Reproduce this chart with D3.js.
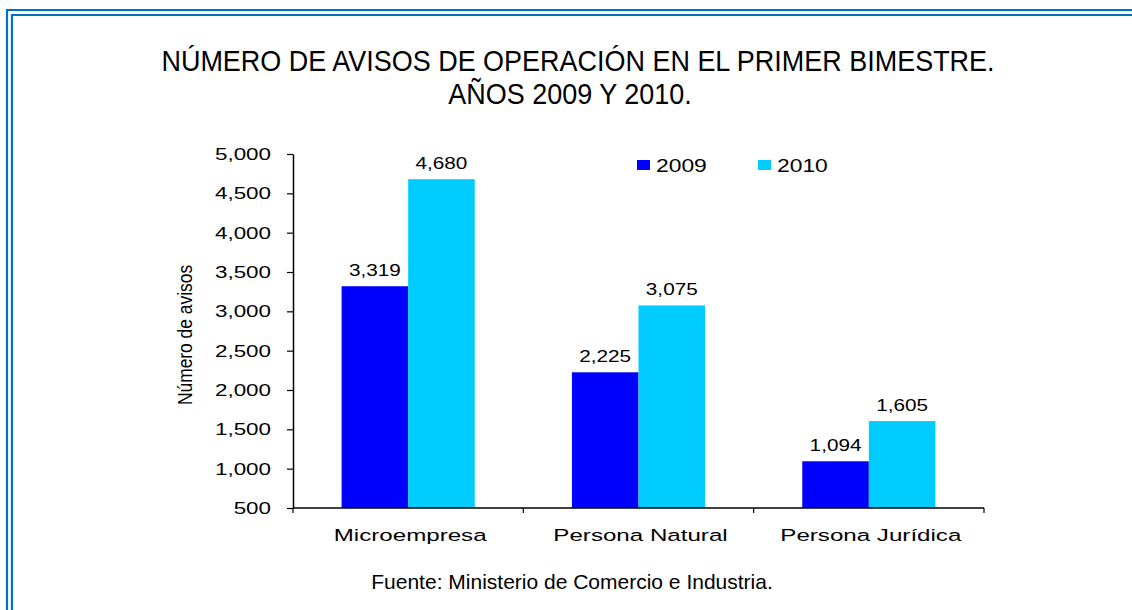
<!DOCTYPE html>
<html>
<head>
<meta charset="utf-8">
<script src="https://cdn.jsdelivr.net/npm/d3@7"></script>
<style>
body { margin: 0; background: #fff; }
text { font-family: "Liberation Sans", Arial, sans-serif; fill: #000; }
</style>
</head>
<body>
<svg id="chart" width="1132" height="610"></svg>
<script>
var categories = ["Microempresa", "Persona Natural", "Persona Jurídica"];
var series = ["2009", "2010"];
var values2009 = [3319, 2225, 1094];
var values2010 = [4680, 3075, 1605];
var yTicks = [500, 1000, 1500, 2000, 2500, 3000, 3500, 4000, 4500, 5000];
var colors = ["#0000ff", "#00ccff"];

var chart = function() {
    var c = {
	left: 293,
	right: 984,
	top: 154,
	bottom: 508,
	svg: d3.select("#chart"),
	// text drawn at x,y then widened by sx (the original is stretched)
	stext: function(g, x, y, sx, s, size, anchor){
	    return g.append("text")
		.attr("transform", "translate(" + x + "," + y + ") scale(" + sx + ",1)")
		.attr("text-anchor", anchor || "middle")
		.style("font-size", size + "px")
		.text(s);
	},
	draw_border: function(){
	    var b = c.svg.append("g").attr("fill", "none")
		.attr("stroke", "#0070c0").attr("stroke-width", 2.2);
	    b.append("path").attr("d", "M 7 610 L 7 10 L 1132 10");
	    b.append("path").attr("d", "M 12 610 L 12 15 L 1132 15");
	},
	draw_title: function(){
	    c.stext(c.svg, 578, 71, 0.93, "NÚMERO DE AVISOS DE OPERACIÓN EN EL PRIMER BIMESTRE.", 29);
	    c.stext(c.svg, 570, 104, 0.93, "AÑOS 2009 Y 2010.", 29);
	    c.stext(c.svg, 572, 589, 1, "Fuente: Ministerio de Comercio e Industria.", 21);
	},
	draw: function(){
	    var y = d3.scaleLinear().domain([500, 5000]).range([c.bottom, c.top]);
	    var x0 = d3.scaleBand().domain(categories).range([c.left, c.right]);
	    var x1 = d3.scaleBand().domain(series).range([0, x0.bandwidth()]).paddingOuter(0.73);
	    var data = categories.map(function(k, i){
		return {cat: k, vals: [values2009[i], values2010[i]]};
	    });

	    // bars
	    var groups = c.svg.append("g").selectAll("g").data(data).enter().append("g")
		.attr("transform", function(d){ return "translate(" + x0(d.cat) + ",0)"; });
	    groups.selectAll("rect").data(function(d){ return d.vals; }).enter().append("rect")
		.attr("x", function(d, i){ return x1(series[i]); })
		.attr("y", function(d){ return y(d); })
		.attr("width", x1.bandwidth())
		.attr("height", function(d){ return c.bottom - y(d); })
		.attr("fill", function(d, i){ return colors[i]; });
	    groups.each(function(d){
		var g = d3.select(this);
		d.vals.forEach(function(v, i){
		    c.stext(g, x1(series[i]) + x1.bandwidth()/2, y(v) - 10, 1.22, d3.format(",")(v), 17);
		});
	    });

	    // y axis
	    var ya = c.svg.append("g").attr("transform", "translate(" + c.left + ",0)")
		.call(d3.axisLeft(y).tickValues(yTicks).tickFormat(d3.format(",")).tickSizeInner(6).tickSizeOuter(0));
	    ya.select(".domain").attr("stroke-width", 1.5);
	    ya.selectAll(".tick line").attr("stroke-width", 1.2);
	    var sx = 1.4;
	    ya.selectAll(".tick text")
		.attr("x", -22 / sx).attr("dy", "0.35em")
		.attr("transform", "scale(" + sx + ",1)")
		.style("font-size", "16px").attr("fill", "#000");

	    // x axis: ticks between the categories
	    var xa = c.svg.append("g");
	    xa.append("line").attr("x1", c.left).attr("x2", c.right)
		.attr("y1", c.bottom).attr("y2", c.bottom)
		.attr("stroke", "#000").attr("stroke-width", 1.5);
	    var edges = categories.map(function(k){ return x0(k); }).concat([c.right]);
	    xa.selectAll(".xt").data(edges).enter().append("line")
		.attr("x1", function(d){ return d; }).attr("x2", function(d){ return d; })
		.attr("y1", c.bottom).attr("y2", c.bottom + 5)
		.attr("stroke", "#000").attr("stroke-width", 1.2);
	    categories.forEach(function(k){
		c.stext(xa, x0(k) + x0.bandwidth()/2 + 2, 541, 1.42, k, 17);
	    });

	    // y label
	    c.svg.append("text")
		.attr("transform", "translate(192,335) rotate(-90) scale(0.87,1)")
		.attr("text-anchor", "middle")
		.style("font-size", "20px")
		.text("Número de avisos");

	    // legend
	    var lg = c.svg.append("g");
	    var lx = [637, 758];
	    series.forEach(function(s, i){
		lg.append("rect").attr("x", lx[i]).attr("y", 160)
		    .attr("width", 13).attr("height", 10).attr("fill", colors[i]);
		c.stext(lg, lx[i] + 19, 172, 1.27, s, 18, "start");
	    });
	}
    };
    return c;
}();

chart.draw_border();
chart.draw_title();
chart.draw();
</script>
</body>
</html>
